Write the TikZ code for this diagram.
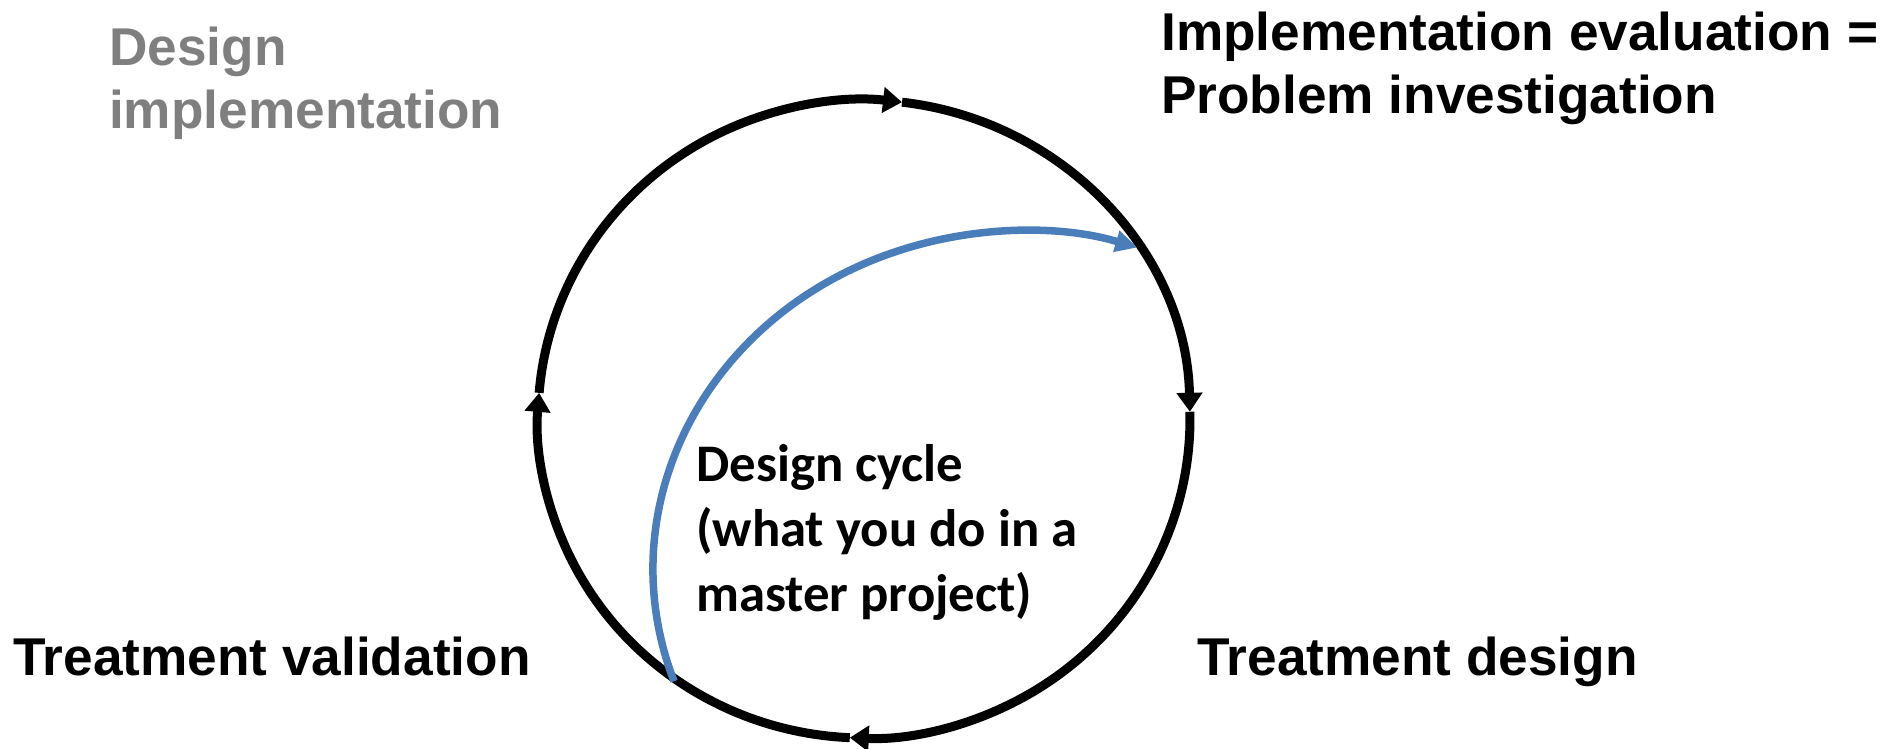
\documentclass[tikz,border=0pt]{standalone}
\usepackage{fontspec}
\setmainfont{Liberation Sans}
\newfontfamily\calibrifont{Carlito}
\usetikzlibrary{arrows.meta}
\definecolor{phasegrey}{RGB}{127,127,127}
\definecolor{cycleblue}{RGB}{74,126,187}
\tikzset{>={Triangle[length=19pt,width=25pt]}}

\begin{document}
\begin{tikzpicture}[x=1pt,y=1pt,
  cyclearc/.style={line width=9pt,->},
  projectarc/.style={line width=7.5pt,cycleblue,-{Triangle[length=22pt,width=21pt]}},
  phaselabel/.style={inner sep=0pt,anchor=north west,align=left,font=\fontsize{53.2}{63}\selectfont\bfseries}]
\useasboundingbox (0,0) rectangle (1898,749);
% the regulative cycle
\coordinate (C) at (864,330);
\path (C) ++(175.3:326 and 319) coordinate (W);
\path (C) ++(83.3:326 and 319) coordinate (N);
\path (C) ++(1.3:326 and 319) coordinate (E);
\path (C) ++(-92.5:326 and 319) coordinate (S);
\draw[cyclearc] (W) arc[start angle=175.3,end angle=83.3,x radius=326,y radius=319];
\draw[cyclearc] (N) arc[start angle=83.3,end angle=1.3,x radius=326,y radius=319];
\draw[cyclearc] (E) arc[start angle=1.3,end angle=-92.5,x radius=326,y radius=319];
\draw[cyclearc] (S) arc[start angle=-92.5,end angle=-184.7,x radius=326,y radius=319];
% design cycle inside it
\coordinate (B) at (1023,180);
\path (B) ++(199.4:370 and 338) coordinate (P);
\draw[projectarc] (P) arc[start angle=199.4,end angle=72,x radius=370,y radius=338];
% phases
\node[phaselabel,text=phasegrey] (impl) at (109,722) {Design\\implementation};
\node[phaselabel] (eval) at (1161,737) {Implementation evaluation =\\Problem investigation};
\node[phaselabel] (valid) at (13,112) {Treatment validation};
\node[phaselabel] (tdesign) at (1197,112) {Treatment design};
\node[phaselabel,font=\fontsize{52.8}{65}\selectfont\calibrifont\bfseries] (dcycle) at (696,305)
  {Design cycle\\(what you do in a\\master project)};
\end{tikzpicture}
\end{document}
